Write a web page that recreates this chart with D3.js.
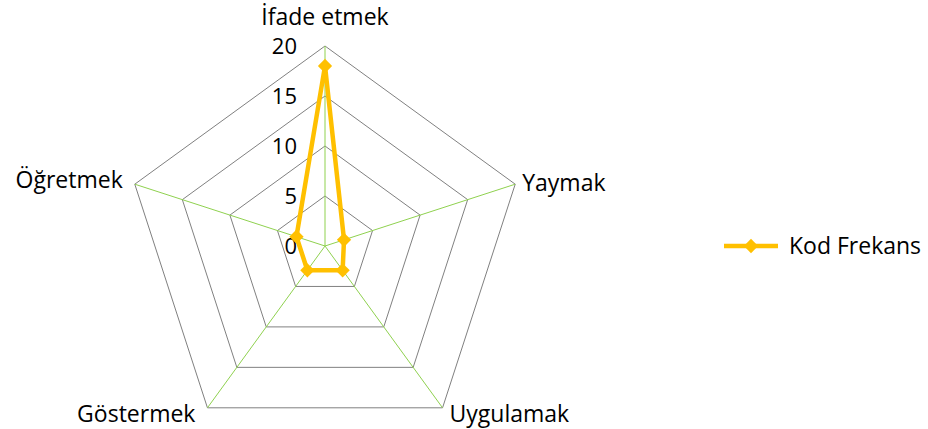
<!DOCTYPE html>
<html>
<head>
<meta charset="utf-8">
<script src="https://cdn.jsdelivr.net/npm/d3@7"></script>
<style>
  html, body { margin: 0; padding: 0; background: #fff; }
  svg { display: block; font-family: "Open Sans", "Noto Sans", sans-serif; }
</style>
</head>
<body>
<svg id="chart" width="928" height="429"></svg>
<script>
// Radar chart data
const categories = ["İfade etmek", "Yaymak", "Uygulamak", "Göstermek", "Öğretmek"];
const seriesName = "Kod Frekans";
const values = [18, 2, 3, 3, 3];
const tickValues = [0, 5, 10, 15, 20];

const svg = d3.select("#chart");
const cx = 325, cy = 246, R = 200;

const r = d3.scaleLinear().domain([0, 20]).range([0, R]);
const angle = d3.scalePoint().domain(categories).range([0, 2 * Math.PI * (categories.length - 1) / categories.length]);

const pt = (cat, v) => {
  const a = angle(cat);
  return [cx + r(v) * Math.sin(a), cy - r(v) * Math.cos(a)];
};

// Ring grid
const ringLine = d3.line();
svg.append("g").selectAll("path")
  .data(tickValues.filter(t => t > 0))
  .join("path")
  .attr("d", t => ringLine(categories.map(c => pt(c, t))) + "Z")
  .attr("fill", "none")
  .attr("stroke", "#808080")
  .attr("stroke-width", 1);

// Spokes
svg.append("g").selectAll("line")
  .data(categories)
  .join("line")
  .attr("x1", cx).attr("y1", cy)
  .attr("x2", c => pt(c, 20)[0])
  .attr("y2", c => pt(c, 20)[1])
  .attr("stroke", "#8fd14f")
  .attr("stroke-width", 1);

// Value axis labels along the first spoke
svg.append("g").selectAll("text")
  .data(tickValues)
  .join("text")
  .attr("x", cx - 28)
  .attr("y", t => cy - r(t))
  .attr("dy", "0.35em")
  .attr("text-anchor", "end")
  .attr("font-size", 22)
  .attr("fill", "#000")
  .text(t => t);

// Category labels
const labelPos = [
  { anchor: "middle", dx: 0, dy: -21 },
  { anchor: "start", dx: 7, dy: 7 },
  { anchor: "start", dx: 7, dy: 14 },
  { anchor: "end", dx: -12, dy: 14 },
  { anchor: "end", dx: -12, dy: 4 }
];
svg.append("g").selectAll("text")
  .data(categories)
  .join("text")
  .attr("x", (c, i) => pt(c, 20)[0] + labelPos[i].dx)
  .attr("y", (c, i) => pt(c, 20)[1] + labelPos[i].dy)
  .attr("text-anchor", (c, i) => labelPos[i].anchor)
  .attr("font-size", 23)
  .attr("fill", "#000")
  .text(c => c);

// Series
const color = "#ffc000";
const pts = categories.map((c, i) => pt(c, values[i]));
svg.append("path")
  .attr("d", d3.line()(pts) + "Z")
  .attr("fill", "none")
  .attr("stroke", color)
  .attr("stroke-width", 4.5)
  .attr("stroke-linejoin", "round");

const diamond = d3.symbol().type(d3.symbolDiamond2).size(130);
svg.append("g").selectAll("path")
  .data(pts)
  .join("path")
  .attr("transform", d => `translate(${d[0]},${d[1]})`)
  .attr("d", diamond)
  .attr("fill", color);

// Legend
const lg = svg.append("g").attr("transform", "translate(724,246)");
lg.append("line").attr("x1", 0).attr("x2", 54).attr("y1", 0).attr("y2", 0)
  .attr("stroke", color).attr("stroke-width", 4.5);
lg.append("path").attr("transform", "translate(27,0)").attr("d", diamond).attr("fill", color);
lg.append("text").attr("x", 65).attr("y", 0).attr("dy", "0.35em")
  .attr("font-size", 23).attr("fill", "#000").text(seriesName);
</script>
</body>
</html>
